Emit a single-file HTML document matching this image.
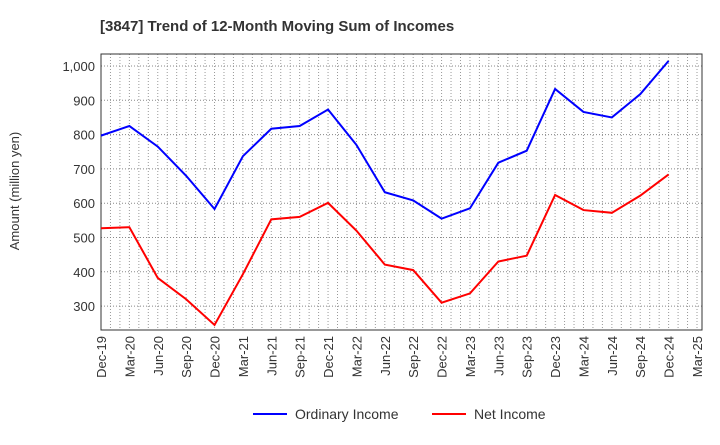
<!DOCTYPE html>
<html><head><meta charset="utf-8"><style>
body{margin:0;background:#fff;font-family:"Liberation Sans",sans-serif}
</style></head><body>
<svg width="720" height="440" xmlns="http://www.w3.org/2000/svg" id="svg">
<text x="100" y="31" font-size="15" font-weight="bold" fill="#333">[3847]  Trend of 12-Month Moving Sum of Incomes</text>
<text transform="translate(19,191) rotate(-90)" text-anchor="middle" font-size="13" fill="#333">Amount (million yen)</text>
<g id="grid"></g><g id="axes"></g><g id="lines"></g>
<g>
<line x1="253" y1="414" x2="287" y2="414" stroke="#0000ff" stroke-width="2"/>
<text x="295" y="419" font-size="14" fill="#333">Ordinary Income</text>
<line x1="432" y1="414" x2="466" y2="414" stroke="#ff0000" stroke-width="2"/>
<text x="474" y="419" font-size="14" fill="#333">Net Income</text>
</g>
</svg>
<script>
const categories=["Dec-19","Mar-20","Jun-20","Sep-20","Dec-20","Mar-21","Jun-21","Sep-21","Dec-21","Mar-22","Jun-22","Sep-22","Dec-22","Mar-23","Jun-23","Sep-23","Dec-23","Mar-24","Jun-24","Sep-24","Dec-24","Mar-25"];
const ordinaryIncome=[797,825,765,680,583,737,817,825,873,770,632,608,555,585,718,753,933,866,850,918,1015];
const netIncome=[527,530,382,320,245,393,553,560,601,520,421,405,310,337,430,447,624,580,572,622,684];
const yTicks=[300,400,500,600,700,800,900,1000];
const L=101,R=702,T=54,B=330;
const xs=i=>L+i*(R-L-5)/21;
const ys=v=>66+(1000-v)*0.343;
const NS="http://www.w3.org/2000/svg";
function mk(p,t,a){const e=document.createElementNS(NS,t);for(const k in a)e.setAttribute(k,a[k]);document.getElementById(p).appendChild(e);return e;}
for(let m=1;m<64;m++){const x=L+m*(R-L-5)/63;
const g=mk('grid','line',{x1:x,x2:x,y1:T,y2:B,stroke:'#999','stroke-dasharray':'1,2','stroke-width':1});

}
yTicks.forEach(v=>{const y=ys(v);
const g=mk('grid','line',{x1:L,x2:R,y1:y,y2:y,stroke:'#888','stroke-dasharray':'1,2'});


const t=mk('axes','text',{x:L-6,y:y+5,'text-anchor':'end','font-size':13,fill:'#333'});t.textContent=v.toLocaleString('en-US');

});
const fr=mk('axes','rect',{x:L,y:T,width:R-L,height:B-T,fill:'none',stroke:'#333'});


categories.forEach((c,i)=>{const x=xs(i);
const t=mk('axes','text',{transform:`translate(${x+5},${B+6}) rotate(-90)`,'text-anchor':'end','font-size':13,fill:'#333'});t.textContent=c;

});
function line(d,c,n){const p=mk('lines','polyline',{points:d.map((v,i)=>xs(i)+','+ys(v)).join(' '),fill:'none',stroke:c,'stroke-width':2});

}
line(ordinaryIncome,'#0000ff','ordinary-income-line');
line(netIncome,'#ff0000','net-income-line');
</script>
</body></html>
